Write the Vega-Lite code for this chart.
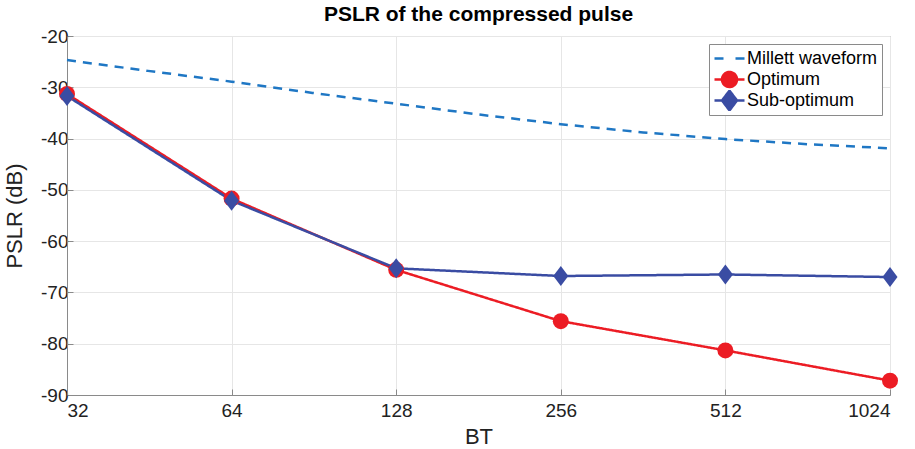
{
  "$schema": "https://vega.github.io/schema/vega-lite/v6.json",
  "autosize": "none",
  "width": 823,
  "height": 359,
  "padding": {"left": 67, "top": 36, "right": 25, "bottom": 54},
  "background": "white",
  "config": {
    "font": "Liberation Sans",
    "view": {"stroke": "#8a8a8a", "strokeWidth": 1},
    "axis": {"domainColor": "#8a8a8a", "tickColor": "#8a8a8a", "gridColor": "#e6e6e6", "labelColor": "#222", "titleColor": "#222", "labelFontSize": 19, "titleFontSize": 22, "titleFontWeight": "normal", "tickSize": -6, "labelFont": "Liberation Sans", "titleFont": "Liberation Sans"}
  },
  "title": {"text": "PSLR of the compressed pulse", "fontSize": 21, "fontWeight": "bold", "font": "Liberation Sans", "color": "#000", "offset": 2},
  "data": {"values": [
    {"series": "Millett waveform", "BT": 32, "PSLR": -24.7},
    {"series": "Millett waveform", "BT": 45, "PSLR": -26.8},
    {"series": "Millett waveform", "BT": 64, "PSLR": -28.9},
    {"series": "Millett waveform", "BT": 90, "PSLR": -31.1},
    {"series": "Millett waveform", "BT": 128, "PSLR": -33.2},
    {"series": "Millett waveform", "BT": 181, "PSLR": -35.3},
    {"series": "Millett waveform", "BT": 256, "PSLR": -37.2},
    {"series": "Millett waveform", "BT": 362, "PSLR": -38.8},
    {"series": "Millett waveform", "BT": 512, "PSLR": -40.1},
    {"series": "Millett waveform", "BT": 724, "PSLR": -41.1},
    {"series": "Millett waveform", "BT": 1024, "PSLR": -41.9},
    {"series": "Optimum", "BT": 32, "PSLR": -31.3},
    {"series": "Optimum", "BT": 64, "PSLR": -51.7},
    {"series": "Optimum", "BT": 128, "PSLR": -65.6},
    {"series": "Optimum", "BT": 256, "PSLR": -75.6},
    {"series": "Optimum", "BT": 512, "PSLR": -81.3},
    {"series": "Optimum", "BT": 1024, "PSLR": -87.2},
    {"series": "Sub-optimum", "BT": 32, "PSLR": -31.7},
    {"series": "Sub-optimum", "BT": 64, "PSLR": -52.1},
    {"series": "Sub-optimum", "BT": 128, "PSLR": -65.3},
    {"series": "Sub-optimum", "BT": 256, "PSLR": -66.8},
    {"series": "Sub-optimum", "BT": 512, "PSLR": -66.5},
    {"series": "Sub-optimum", "BT": 1024, "PSLR": -67.0}
  ]},
  "encoding": {
    "x": {"field": "BT", "type": "quantitative", "scale": {"type": "log", "base": 2, "domain": [32, 1024], "nice": false},
      "axis": {"values": [32, 64, 128, 256, 512, 1024], "format": "d", "title": "BT", "labelPadding": 12, "titlePadding": 6, "grid": true}},
    "y": {"field": "PSLR", "type": "quantitative", "scale": {"domain": [-90, -20], "nice": false},
      "axis": {"values": [-90, -80, -70, -60, -50, -40, -30, -20], "labelExpr": "replace(datum.label, '\u2212', '-')", "title": "PSLR (dB)", "labelPadding": 5, "titlePadding": 14, "grid": true}},
    "color": {"field": "series", "type": "nominal",
      "scale": {"domain": ["Millett waveform", "Optimum", "Sub-optimum"], "range": ["#1f77c4", "#ec1c24", "#3a4ca3"]},
      "legend": {"title": null, "orient": "top-right", "offset": 8, "strokeColor": "#8a8a8a", "fillColor": "white", "padding": 4, "labelFontSize": 18, "labelColor": "#000", "rowPadding": 0, "clipHeight": 21, "symbolSize": 900, "symbolStrokeWidth": 2.5, "labelOffset": 1,
        "encode": {"symbols": {"update": {
          "shape": {"signal": "datum.value === 'Optimum' ? 'M-1,0 L1,0 M0.5,0 A0.5,0.5 0 1,1 -0.5,0 A0.5,0.5 0 1,1 0.5,0 Z' : datum.value === 'Sub-optimum' ? 'M-1,0 L1,0 M0,-0.66 L0.5,0 L0,0.66 L-0.5,0 Z' : 'M-1,0 L-0.4,0 M0.4,0 L1,0'"},
          "size": {"value": 900},
          "opacity": {"value": 1}, "fillOpacity": {"value": 1}, "strokeOpacity": {"value": 1},
          "strokeDash": {"value": []},
          "strokeWidth": {"value": 2.5},
          "fill": {"scale": "color", "field": "value"},
          "stroke": {"scale": "color", "field": "value"}}}}}}
  },
  "layer": [
    {
      "mark": {"type": "line", "strokeWidth": 2.5},
      "encoding": {
        "strokeDash": {"field": "series", "type": "nominal", "scale": {"domain": ["Millett waveform", "Optimum", "Sub-optimum"], "range": [[9, 7], [1, 0], [1, 0]]}, "legend": null}
      }
    },
    {
      "transform": [{"filter": "datum.series === 'Optimum'"}],
      "mark": {"type": "point", "filled": true, "opacity": 1, "size": 256, "shape": "circle"}
    },
    {
      "transform": [{"filter": "datum.series === 'Sub-optimum'"}],
      "mark": {"type": "point", "filled": true, "opacity": 1, "size": 256, "shape": "M0,-1.25 L0.94,0 L0,1.25 L-0.94,0 Z"}
    }
  ]
}
